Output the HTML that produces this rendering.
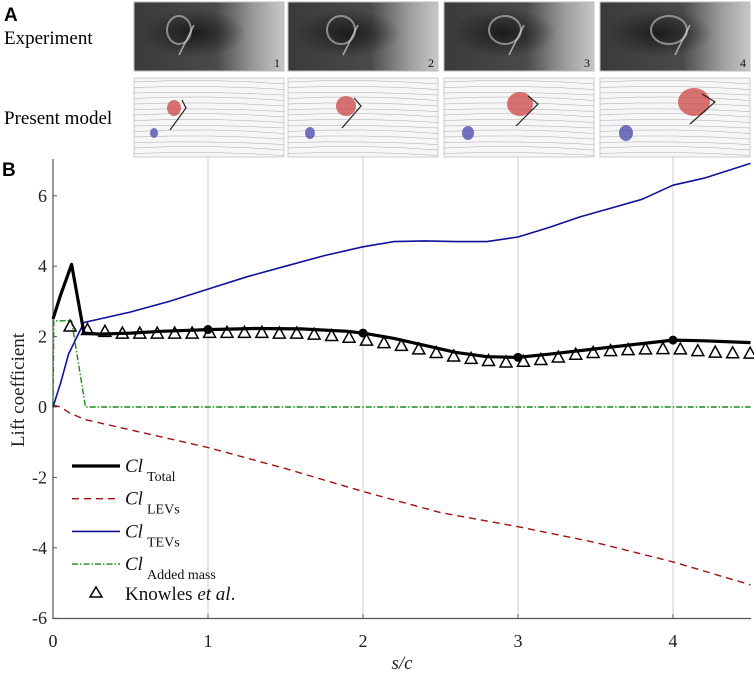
<!DOCTYPE html>
<html><head><meta charset="utf-8"><style>
body{margin:0;background:#fff;}
svg text{font-family:"Liberation Serif",serif;}
</style></head><body>
<svg width="754" height="675" viewBox="0 0 754 675" xmlns="http://www.w3.org/2000/svg">
<defs>
<linearGradient id="exl" x1="0" y1="0" x2="1" y2="0"><stop offset="0" stop-color="#3a3a3a"/><stop offset="0.55" stop-color="#4a4a4a"/><stop offset="0.8" stop-color="#9a9a9a"/><stop offset="1" stop-color="#c8c8c8"/></linearGradient>
<radialGradient id="exr" cx="40%" cy="45%" r="35%"><stop offset="0" stop-color="#111" stop-opacity="0.8"/><stop offset="1" stop-color="#111" stop-opacity="0"/></radialGradient>
</defs>
<g id="panels"></g>
<text x="4" y="21" font-weight="bold" font-size="19" style="font-family:'Liberation Sans',sans-serif">A</text>
<text x="4" y="44" font-size="19">Experiment</text>
<text x="4" y="124" font-size="19">Present model</text>
<text x="2" y="176" font-weight="bold" font-size="19" style="font-family:'Liberation Sans',sans-serif">B</text>
<g id="plot"></g>
</svg>
<script>
const NS="http://www.w3.org/2000/svg";
const xTicks=[0,1,2,3,4];
const yTicks=[-6,-4,-2,0,2,4,6];
const totalX=[0,0.05,0.12,0.2,0.3,0.5,0.7,1,1.3,1.6,1.9,2,2.2,2.4,2.6,2.8,3,3.2,3.5,3.8,4,4.2,4.5];
const totalY=[2.5,3.2,4.05,2.1,2.07,2.1,2.15,2.2,2.23,2.22,2.15,2.1,1.95,1.75,1.55,1.43,1.41,1.5,1.65,1.8,1.9,1.88,1.83];
const tevX=[0,0.05,0.1,0.2,0.3,0.5,0.75,1,1.25,1.5,1.75,2,2.2,2.4,2.6,2.8,3,3.2,3.4,3.6,3.8,4,4.2,4.5];
const tevY=[0,0.7,1.5,2.4,2.5,2.7,3.0,3.35,3.7,4.0,4.3,4.55,4.7,4.72,4.7,4.7,4.83,5.1,5.4,5.65,5.9,6.3,6.5,6.92];
const levX=[0,0.05,0.1,0.2,0.5,1,1.5,2,2.5,3,3.5,4,4.5];
const levY=[0.05,0,-0.15,-0.35,-0.65,-1.15,-1.75,-2.4,-3.0,-3.4,-3.85,-4.4,-5.05];
const amX=[0,0.005,0.12,0.21,4.5];
const amY=[0,2.45,2.45,0,0];
const knowlesY=[2.3,2.2,2.15,2.1,2.1,2.1,2.1,2.1,2.12,2.12,2.12,2.12,2.1,2.1,2.07,2.03,1.98,1.9,1.83,1.75,1.65,1.55,1.45,1.38,1.32,1.28,1.3,1.35,1.42,1.5,1.55,1.6,1.63,1.65,1.66,1.65,1.6,1.56,1.54,1.53];
const knowlesX=knowlesY.map((v,i)=>0.11+0.1125*i);
const markerX=[1,2,3,4];
const markerY=[2.2,2.1,1.41,1.9];

const sx=v=>53+155*v;
const sy=v=>407-35.2*v;
const plot=document.getElementById('plot');
function mk(tag,attrs,parent){const e=document.createElementNS(NS,tag);for(const k in attrs)e.setAttribute(k,attrs[k]);(parent||plot).appendChild(e);return e;}

const pan=document.getElementById('panels');
const px=[134,288,444,600];
px.forEach((x,i)=>{
  const r=mk('rect',{x:x,y:2,width:150,height:69,fill:'url(#exl)',stroke:'#bbb'},pan);
  
  
  mk('rect',{x:x,y:2,width:150,height:69,fill:'url(#exr)'},pan);
  mk('ellipse',{cx:x+45+i*8,cy:30,rx:12+i*2,ry:14,fill:'none',stroke:'#ccc','stroke-width':'2',opacity:'0.6'},pan);
  mk('line',{x1:x+60+i*10,y1:25,x2:x+45+i*10,y2:55,stroke:'#ddd','stroke-width':'1.5',opacity:'0.7'},pan);
  const t=mk('text',{x:x+140,y:67,'font-size':'12',fill:'#111'},pan);t.textContent=String(i+1);
  
  
  const m=mk('rect',{x:x,y:78,width:150,height:79,fill:'#f6f6f6',stroke:'#ccc'},pan);
  
  
  for(let k=0;k<14;k++){mk('path',{d:`M${x} ${82+k*5.5} Q${x+75} ${78+k*5.5+ (k%3)} ${x+150} ${84+k*5.5}`,stroke:'#aaa','stroke-width':'0.5',fill:'none'},pan);}
  const cx=x+40+i*18, cy=108-i*2;
  mk('ellipse',{cx:cx,cy:cy,rx:7+i*3,ry:8+i*2,fill:'#d05050',opacity:'0.8'},pan);
  mk('ellipse',{cx:x+20+i*2,cy:133,rx:4+i,ry:5+i,fill:'#5050b0',opacity:'0.8'},pan);
  mk('path',{d:`M${cx+8} ${cy-8} L${cx+12+i*3} ${cy} L${cx-4} ${cy+22}`,stroke:'#222','stroke-width':'1.2',fill:'none'},pan);
});

xTicks.forEach(v=>{if(v>0){const l=mk('line',{x1:sx(v),x2:sx(v),y1:157,y2:618,stroke:'#ccc','stroke-width':'1'});}});
const ya=mk('line',{x1:53,x2:53,y1:159,y2:619,stroke:'#555','stroke-width':'1.2'});
const xa=mk('line',{x1:53,x2:751,y1:618.5,y2:618.5,stroke:'#555','stroke-width':'1.2'});
yTicks.forEach(v=>{mk('line',{x1:53,x2:57,y1:sy(v),y2:sy(v),stroke:'#555'});
  const t=mk('text',{x:47,y:sy(v)+6,'text-anchor':'end','font-size':'18',fill:'#222'});t.textContent=String(v);
  });
xTicks.forEach(v=>{mk('line',{x1:sx(v),x2:sx(v),y1:618,y2:614,stroke:'#555'});
  const t=mk('text',{x:sx(v),y:647,'text-anchor':'middle','font-size':'18',fill:'#222'});t.textContent=String(v);
  });
const yl=mk('text',{x:0,y:0,transform:'translate(24,390) rotate(-90)','text-anchor':'middle','font-size':'19',fill:'#222'});yl.textContent='Lift coefficient';

const xl=mk('text',{x:402,y:669,'text-anchor':'middle','font-size':'19','font-style':'italic',fill:'#222'});xl.textContent='s/c';


function line(xs,ys,attrs,name){const d=xs.map((x,i)=>(i?'L':'M')+sx(x).toFixed(1)+' '+sy(ys[i]).toFixed(1)).join(' ');
  const p=mk('path',Object.assign({d:d,fill:'none','stroke-linejoin':'round'},attrs));return p;}
line(amX,amY,{stroke:'#1a8a1a','stroke-width':'1.4','stroke-dasharray':'6 2 1.5 2'},'added-mass-line');
line(levX,levY,{stroke:'#a01010','stroke-width':'1.4','stroke-dasharray':'7 5'},'lev-line');
line(tevX,tevY,{stroke:'#10109a','stroke-width':'1.6'},'tev-line');
line(totalX,totalY,{stroke:'#000','stroke-width':'3.2'},'total-line');
knowlesX.forEach((x,i)=>{const cx=sx(x),cy=sy(knowlesY[i]);
  const p=mk('path',{d:`M${cx-6} ${cy+5} L${cx} ${cy-6} L${cx+6} ${cy+5} Z`,fill:'none',stroke:'#000','stroke-width':'1.5'});
  });
markerX.forEach((x,i)=>{const c=mk('circle',{cx:sx(x),cy:sy(markerY[i]),r:4.5,fill:'#000'});
  });

const lg=mk('g',{});
const items=[['Total',{stroke:'#000','stroke-width':'3.2'}],['LEVs',{stroke:'#a01010','stroke-width':'1.4','stroke-dasharray':'7 5'}],['TEVs',{stroke:'#10109a','stroke-width':'1.6'}],['Added mass',{stroke:'#1a8a1a','stroke-width':'1.4','stroke-dasharray':'6 2 1.5 2'}]];
items.forEach((it,i)=>{const y=466+i*32.7;
  const e=mk('g',{},lg);
  mk('line',Object.assign({x1:72,x2:120,y1:y,y2:y},it[1]),e);
  const t=mk('text',{x:125,y:y+6,'font-size':'19','font-style':'italic',fill:'#111'},e);t.textContent='Cl';
  const s=mk('text',{x:147,y:y+15,'font-size':'14',fill:'#111'},e);s.textContent=it[0];});
const ke=mk('g',{},lg);
mk('path',{d:'M90 597 L96 587 L102 597 Z',fill:'none',stroke:'#000','stroke-width':'1.5'},ke);
const kt=mk('text',{x:125,y:600,'font-size':'19',fill:'#111'},ke);kt.innerHTML='Knowles <tspan font-style="italic">et al</tspan>.';
</script>
</body></html>
